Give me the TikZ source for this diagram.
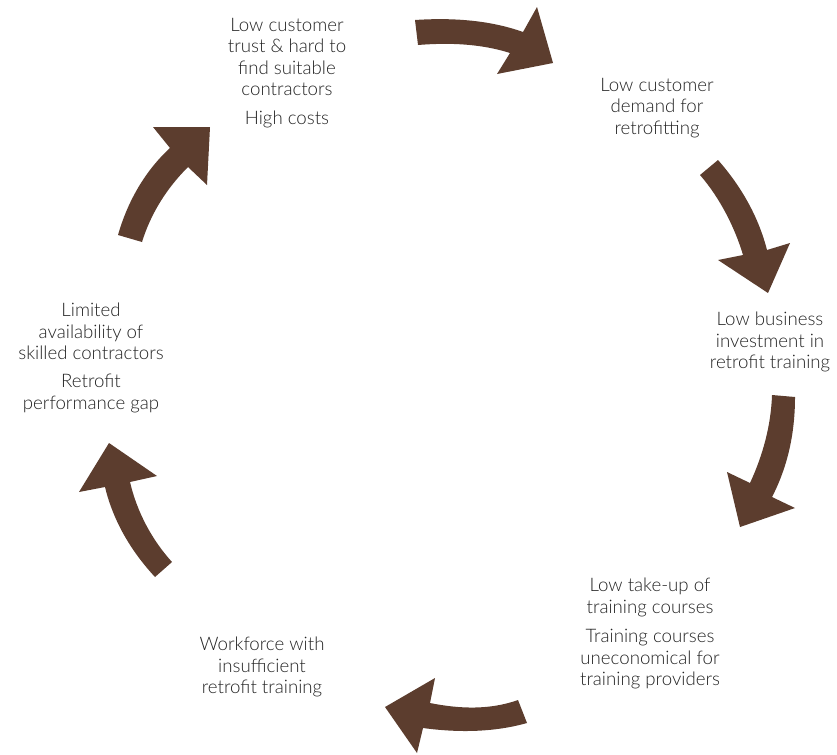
\documentclass[tikz,border=0pt]{standalone}
\usepackage{fontspec}
\setmainfont{Lato}[UprightFont={* Light}]
\definecolor{arrowbrown}{RGB}{92,61,46}
\definecolor{txt}{RGB}{35,35,35}
\begin{document}
\begin{tikzpicture}[x=0.75pt,y=-0.75pt,
  blockarrow/.style={fill=arrowbrown,draw=none},
  label/.style={align=center,anchor=north,inner sep=0pt,text=txt,
    font=\fontsize{14}{16.1}\selectfont}]
\useasboundingbox (0,0) rectangle (837,754);

% text blocks
\node[label] (t1) at (287,18) {Low customer\\trust \& hard to\\find suitable\\contractors\\[5pt]High costs};
\node[label] (t2) at (657,78) {Low customer\\demand for\\retrofitting};
\node[label] (t3) at (770,312) {Low business\\investment in\\retrofit training};
\node[label] (t4) at (650,578) {Low take-up of\\training courses\\[6pt]Training courses\\uneconomical for\\training providers};
\node[label] (t5) at (262,637) {Workforce with\\insufficient\\retrofit training};
\node[label] (t6) at (91,303) {Limited\\availability of\\skilled contractors\\[5pt]Retrofit\\performance gap};

% curved block arrows
\fill[blockarrow] (415,20) .. controls (460,17) and (495,22) .. (523,32) -- (537,7) -- (553,63) -- (497,74) -- (510,53) .. controls (485,45) and (455,42) .. (418,45) -- cycle;
\fill[blockarrow] (718,160) .. controls (740,185) and (758,215) .. (767,250) -- (790,243) -- (768,293) -- (718,260) -- (743,255) .. controls (735,228) and (720,198) .. (700,175) -- cycle;
\fill[blockarrow] (795,397) .. controls (795,435) and (787,468) .. (772,497) -- (795,508) -- (740,527) -- (727,472) -- (750,483) .. controls (763,455) and (771,425) .. (772,395) -- cycle;
\fill[blockarrow] (518,700) .. controls (490,710) and (460,709) .. (430,703) -- (435,678) -- (385,707) -- (417,753) -- (423,728) .. controls (460,733) and (495,732) .. (527,723) -- cycle;
\fill[blockarrow] (155,577) .. controls (130,550) and (113,520) .. (105,487) -- (79,492) -- (109,443) -- (157,476) -- (130,482) .. controls (137,512) and (152,540) .. (172,562) -- cycle;
\fill[blockarrow] (118,235) .. controls (128,200) and (146,170) .. (170,148) -- (153,127) -- (210,127) -- (207,185) -- (188,167) .. controls (167,188) and (151,213) .. (142,242) -- cycle;
\end{tikzpicture}
\end{document}
